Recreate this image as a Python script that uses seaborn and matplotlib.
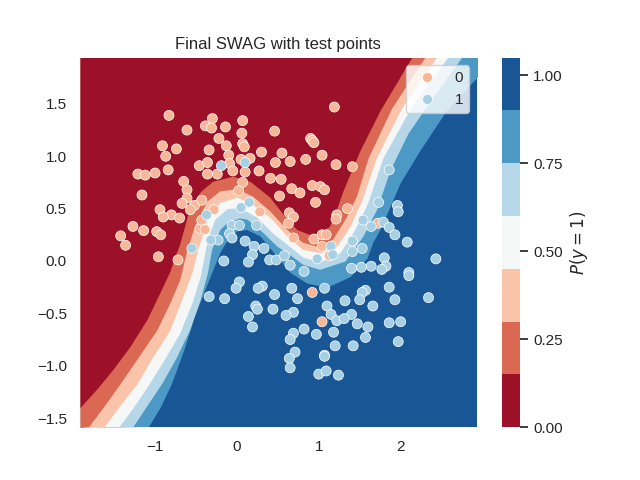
import numpy as np
import pandas as pd
import matplotlib
matplotlib.use("Agg")
import matplotlib.pyplot as plt
from matplotlib.cm import ScalarMappable
from matplotlib.colors import BoundaryNorm, ListedColormap
import seaborn as sns

levels = [0, 0.15, 0.30, 0.45, 0.60, 0.75, 0.90, 1.05]
cbar_ticks = [0, 0.25, 0.5, 0.75, 1.0]

# test points, class 0
x0 = [-0.83, -0.61, -0.30, -0.385, -0.31, -0.14, 0.07, 0.06, 0.46, -0.22, -0.91, -0.74, -0.87, -0.34, -0.13,
      0.07, 0.09, 0.30, -0.10, 0.05, 0.16, -0.46, -0.36, -0.09, 0.47, -0.84, -1.21, -1.12, -1.00, -0.36, -0.24,
      -0.05, 0.10, 0.27, 0.41, -0.65, 0.07, -0.61, 0.02, -1.16, 0.52, -0.61, -0.67, -0.52, -0.43, -0.57, -0.94,
      -0.80, -0.90, -0.70, -0.28, 0.28, -1.27, -1.14, -0.98, -0.93, -1.42, -1.36, -0.45, -0.39, -0.43,
      1.19, 0.90, 0.92, 0.94, 0.55, 0.65, 0.84, 1.04, 1.21, 1.41, 0.54, 0.67, 0.77, 0.92, 1.02, 1.07, 0.96,
      0.64, 0.69, 0.63, 0.69, 0.94, 1.04, 1.09, 1.04, 1.22, 1.21, 1.35, 1.72, -0.96, -0.72, 0.92, 1.04, 1.13]
y0 = [1.39, 1.25, 1.36, 1.29, 1.27, 1.28, 1.34, 1.22, 1.24, 1.17, 1.10, 1.07, 1.00, 1.06, 1.10,
      1.12, 1.09, 1.04, 1.01, 0.97, 0.98, 0.91, 0.94, 0.93, 0.94, 0.87, 0.83, 0.82, 0.84, 0.83, 0.83,
      0.86, 0.85, 0.86, 0.79, 0.76, 0.75, 0.68, 0.67, 0.63, 0.62, 0.60, 0.55, 0.53, 0.58, 0.49, 0.49,
      0.44, 0.42, 0.41, 0.49, 0.47, 0.33, 0.29, 0.28, 0.25, 0.24, 0.15, 0.31, 0.30, 0.39,
      1.47, 1.17, 1.15, 1.13, 1.03, 0.95, 0.97, 1.01, 0.92, 0.90, 0.78, 0.69, 0.65, 0.72, 0.71, 0.68, 0.56,
      0.46, 0.42, 0.36, 0.22, 0.21, 0.25, 0.25, 0.14, 0.44, 0.40, 0.50, 0.36, 0.04, 0.01, -0.30, -0.58, 0.05]

# test points, class 1
x1 = [-0.19, 0.10, -0.37, 0.05, 0.15, -0.06, 0.03, 0.24, -0.09, -0.06, -0.23, -0.32, 0.10, -0.55, 0.21, 0.33,
      1.86, 1.73, 1.96, 1.97, 1.54, 1.64, 1.79, 1.86, 1.93, 2.08, 1.41, 1.53, 1.15,
      0.19, -0.16, 0.14, 0.40, 0.48, 0.03, -0.01, 0.31, 0.26, 0.46, -0.34, -0.15, 0.23, 0.25, 0.44, 0.14, 0.19,
      1.41, 1.17, 0.98, 0.82, 0.58, 0.65, 1.80, 1.82, 1.77, 1.64, 1.52, 1.40, 2.43, 2.10, 2.10, 0.67, 0.74,
      1.07, 1.57, 1.53, 1.50, 1.32, 1.86, 1.93, 2.34, 1.66, 1.10, 1.15, 0.69, 0.60, 1.40, 1.22, 1.31, 1.47,
      1.60, 1.86, 2.00, 0.82, 0.69, 0.65, 0.97, 1.18, 1.57, 1.20, 1.42, 1.97, 0.71, 1.07, 1.07, 0.64, 0.65,
      1.00, 1.09, 1.24]
y1 = [0.91, 0.94, 0.44, 0.51, 0.56, 0.34, 0.34, 0.34, 0.26, 0.22, 0.20, 0.20, 0.19, 0.12, 0.14, 0.12,
      0.87, 0.56, 0.53, 0.47, 0.39, 0.33, 0.37, 0.32, 0.25, 0.18, 0.19, 0.12, 0.14,
      0.06, 0.00, -0.01, 0.01, 0.01, -0.20, -0.26, -0.24, -0.26, -0.32, -0.34, -0.36, -0.43, -0.46, -0.46, -0.53, -0.63,
      0.09, 0.06, 0.02, -0.10, 0.05, -0.04, 0.03, -0.05, -0.08, -0.05, -0.06, -0.07, 0.02, -0.11, -0.14, -0.26, -0.36,
      -0.26, -0.28, -0.30, -0.37, -0.38, -0.25, -0.37, -0.35, -0.43, -0.43, -0.51, -0.49, -0.52, -0.51, -0.57, -0.55, -0.60,
      -0.63, -0.59, -0.58, -0.65, -0.69, -0.75, -0.70, -0.68, -0.73, -0.81, -0.81, -0.77, -0.87, -0.90, -0.91, -0.93, -1.02,
      -1.08, -1.05, -1.09]

# contour lines of P(y=1) at each level
line_15_x = [-1.917, -1.71, -1.52, -1.31, -1.10, -0.94, -0.82, -0.74, -0.70, -0.58, -0.45, -0.30, -0.05, 0.16, 0.40, 0.56, 0.73, 0.93, 1.13, 1.22, 1.29, 1.50, 1.75, 2.14, 2.93]
line_15_y = [-1.40, -1.22, -1.04, -0.82, -0.56, -0.30, -0.10, 0.08, 0.16, 0.50, 0.66, 0.76, 0.81, 0.76, 0.61, 0.45, 0.30, 0.24, 0.33, 0.50, 0.66, 1.05, 1.44, 1.95, 1.95]
line_30_x = [-1.917, -1.81, -1.60, -1.40, -1.19, -0.98, -0.82, -0.70, -0.61, -0.52, -0.37, -0.21, 0.0, 0.19, 0.40, 0.61, 0.80, 0.98, 1.17, 1.32, 1.46, 1.60, 1.89, 2.30, 2.93]
line_30_y = [-1.59, -1.58, -1.36, -1.14, -0.90, -0.66, -0.40, -0.18, 0.11, 0.33, 0.57, 0.67, 0.69, 0.62, 0.48, 0.30, 0.18, 0.14, 0.21, 0.40, 0.62, 0.98, 1.46, 1.95, 1.95]
line_45_x = [-1.917, -1.62, -1.43, -1.22, -1.03, -0.82, -0.66, -0.55, -0.48, -0.36, -0.21, 0.0, 0.19, 0.40, 0.61, 0.80, 1.01, 1.22, 1.38, 1.53, 1.70, 2.01, 2.44, 2.93]
line_45_y = [-1.59, -1.58, -1.38, -1.17, -0.92, -0.66, -0.34, -0.11, 0.11, 0.40, 0.56, 0.61, 0.54, 0.42, 0.24, 0.11, 0.08, 0.14, 0.33, 0.59, 0.98, 1.46, 1.95, 1.95]
line_60_x = [-1.917, -1.44, -1.25, -1.07, -0.88, -0.70, -0.55, -0.45, -0.36, -0.27, -0.12, 0.03, 0.24, 0.43, 0.61, 0.80, 1.01, 1.26, 1.44, 1.60, 1.78, 2.12, 2.58, 2.93]
line_60_y = [-1.59, -1.58, -1.38, -1.17, -0.93, -0.69, -0.40, -0.15, 0.21, 0.40, 0.50, 0.51, 0.42, 0.27, 0.16, 0.04, -0.01, 0.08, 0.30, 0.56, 0.98, 1.46, 1.95, 1.95]
line_75_x = [-1.917, -1.27, -1.10, -0.92, -0.74, -0.58, -0.45, -0.36, -0.31, -0.21, -0.12, 0.03, 0.12, 0.32, 0.49, 0.61, 0.80, 1.01, 1.32, 1.54, 1.71, 1.87, 2.09, 2.30, 2.75, 2.93]
line_75_y = [-1.59, -1.58, -1.38, -1.17, -0.92, -0.66, -0.37, -0.11, 0.11, 0.30, 0.37, 0.41, 0.40, 0.27, 0.14, 0.08, -0.03, -0.08, 0.00, 0.24, 0.50, 0.87, 1.22, 1.46, 1.95, 1.95]
line_90_x = [-1.917, -1.08, -0.94, -0.80, -0.65, -0.52, -0.36, -0.21, -0.09, 0.01, 0.12, 0.28, 0.49, 0.65, 0.85, 1.10, 1.38, 1.59, 1.66, 1.76, 1.99, 2.23, 2.56, 2.94]
line_90_y = [-1.59, -1.58, -1.40, -1.17, -0.85, -0.53, -0.21, 0.08, 0.24, 0.29, 0.30, 0.24, 0.04, -0.11, -0.21, -0.25, -0.15, 0.03, 0.18, 0.32, 0.74, 1.05, 1.44, 1.76]

sns.set_theme(style="white")
plt.rcParams['font.family'] = ['Liberation Sans', 'DejaVu Sans']

# contourf style colours: middle of each level on the 0..1.05 colour scale
rdbu = sns.color_palette("RdBu", as_cmap=True)
band_colors = [rdbu((levels[i] + levels[i + 1]) / 2 / levels[-1]) for i in range(7)]
point_colors = sns.color_palette("RdBu", 2)

fig, ax = plt.subplots(figsize=(6.4, 4.8), dpi=100)
xlim = (-1.917, 2.93)
ylim = (-1.587, 1.942)

# stack the bands from high P to low P, each one fills everything above its line
ax.set_facecolor(band_colors[6])
lines = [(line_90_x, line_90_y), (line_75_x, line_75_y), (line_60_x, line_60_y),
         (line_45_x, line_45_y), (line_30_x, line_30_y), (line_15_x, line_15_y)]
for i, (lx, ly) in enumerate(lines):
    ax.fill_between(lx, ly, 2.0, color=band_colors[5 - i], lw=0, zorder=1)

df = pd.DataFrame({"x": x0 + x1, "y": y0 + y1, "label": [0] * len(x0) + [1] * len(x1)})
sns.scatterplot(data=df, x="x", y="y", hue="label", palette=point_colors, s=52, linewidth=0.5, ax=ax, zorder=3)
leg = ax.legend(loc="upper right")
for h in leg.legend_handles:
    h.set_markersize(7.2)
ax.set_xlim(xlim)
ax.set_ylim(ylim)
ax.set_xlabel("")
ax.set_ylabel("")
ax.set_xticks([-1, 0, 1, 2])
ax.set_yticks([-1.5, -1.0, -0.5, 0.0, 0.5, 1.0, 1.5])
ax.set_title("Final SWAG with test points")
sns.despine(ax=ax, left=True, bottom=True)

norm = BoundaryNorm(levels, 7)
sm = ScalarMappable(norm=norm, cmap=ListedColormap(band_colors))
cbar = fig.colorbar(sm, ax=ax, ticks=cbar_ticks, spacing="proportional")
cbar.ax.set_yticklabels(["0.00", "0.25", "0.50", "0.75", "1.00"])
cbar.ax.minorticks_off()
cbar.ax.tick_params(right=True, length=6, width=1.25, color=".15")
cbar.outline.set_visible(False)
cbar.set_label("$P(y = 1)$")

fig.savefig("out.png", dpi=100)
